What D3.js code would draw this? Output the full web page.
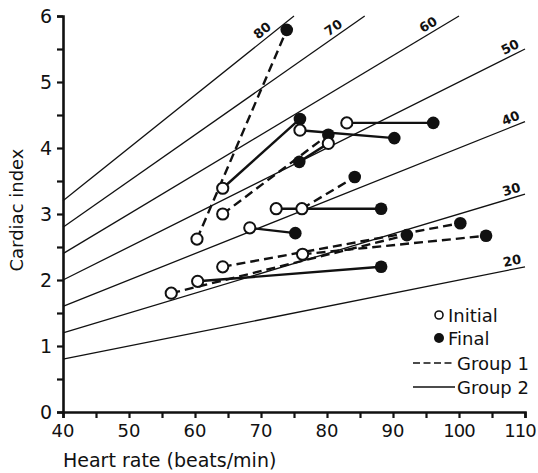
<!DOCTYPE html>
<html>
<head>
<meta charset="utf-8">
<script src="https://cdn.jsdelivr.net/npm/d3@7"></script>
<style>
  body { margin: 0; background: #fff; }
  svg { display: block; }
  text { font-family: "DejaVu Sans", "Liberation Sans", sans-serif; fill: #111; }
</style>
</head>
<body>
<div id="grafico"></div>
<script>
// iso-lines of stroke index (ml/m2): CI = HR * SI / 1000
const indicesSistolicos = [20, 30, 40, 50, 60, 70, 80];

// initial -> final, per patient
const frecInicial = [60.3, 64.2, 75.9, 83.0, 64.2, 80.2, 76.2, 72.3, 68.3, 56.4, 60.4, 64.2, 76.3];
const indInicial  = [2.62, 3.39, 4.27, 4.38, 3.00, 4.07, 3.08, 3.08, 2.79, 1.80, 1.98, 2.20, 2.39];
const frecFinal   = [73.9, 75.9, 90.2, 96.1, 80.2, 75.8, 84.2, 88.2, 75.2, 92.1, 88.2, 100.2, 104.1];
const indFinal    = [5.79, 4.44, 4.15, 4.38, 4.20, 3.79, 3.56, 3.08, 2.71, 2.68, 2.20, 2.86, 2.67];
const grupo       = [1, 2, 2, 2, 1, 2, 1, 2, 2, 1, 2, 1, 1];

const ticksX = [40, 50, 60, 70, 80, 90, 100, 110];
const ticksY = [0, 1, 2, 3, 4, 5, 6];
const leyenda = ["Initial", "Final", "Group 1", "Group 2"];

const ancho = 538, alto = 473;
const x = d3.scaleLinear().domain([40, 110]).range([63, 525]);
const y = d3.scaleLinear().domain([0, 6]).range([412, 16]);
const guion = "9,5";

const $svg = d3.select("#grafico")
    .append("svg")
    .attr("width", ancho)
    .attr("height", alto);

// iso-lines, cut at the top of the frame or at 110
indicesSistolicos.forEach(si => {
    const k = si / 1000;
    const hrFin = Math.min(110, 6 / k);
    $svg.append("line")
        .attr("x1", x(40)).attr("y1", y(40 * k))
        .attr("x2", x(hrFin)).attr("y2", y(hrFin * k))
        .attr("stroke", "#111")
        .attr("stroke-width", 1.3);

    const hrTxt = hrFin < 110 ? hrFin - 4 : 108.3;
    const px = x(hrTxt), py = y(hrTxt * k);
    const ang = Math.atan(k * (y(0) - y(1)) / (x(1) - x(0))) * 180 / Math.PI;
    $svg.append("text")
        .attr("transform", `translate(${px},${py}) rotate(${-ang}) translate(0,-4)`)
        .attr("font-size", 13)
        .attr("font-weight", "bold")
        .style("text-anchor", "middle")
        .text(si);
});

// connecting lines
const pacientes = d3.range(frecInicial.length);
$svg.append("g")
    .selectAll("line")
    .data(pacientes)
    .join("line")
    .attr("x1", i => x(frecInicial[i])).attr("y1", i => y(indInicial[i]))
    .attr("x2", i => x(frecFinal[i])).attr("y2", i => y(indFinal[i]))
    .attr("stroke", "#111")
    .attr("stroke-width", 2.4)
    .attr("stroke-dasharray", i => grupo[i] === 1 ? guion : null);

// finals, then initials on top
$svg.append("g")
    .selectAll("circle")
    .data(pacientes)
    .join("circle")
    .attr("cx", i => x(frecFinal[i])).attr("cy", i => y(indFinal[i]))
    .attr("r", 6.3)
    .attr("fill", "#111");

$svg.append("g")
    .selectAll("circle")
    .data(pacientes)
    .join("circle")
    .attr("cx", i => x(frecInicial[i])).attr("cy", i => y(indInicial[i]))
    .attr("r", 5.6)
    .attr("fill", "#fff")
    .attr("stroke", "#111")
    .attr("stroke-width", 2);

// axes
const ejeX = $svg.append("g")
    .attr("transform", `translate(0,${y(0)})`)
    .call(d3.axisBottom(x).tickValues(d3.range(40, 111, 5)).tickSize(6).tickFormat(""));
const ejeY = $svg.append("g")
    .attr("transform", `translate(${x(40)},0)`)
    .call(d3.axisLeft(y).tickValues(d3.range(0, 6.01, 0.5)).tickSize(6).tickFormat(""));
[ejeX, ejeY].forEach(eje => {
    eje.select(".domain").attr("stroke", "#111").attr("stroke-width", 2.6);
    eje.selectAll(".tick line").attr("stroke", "#111").attr("stroke-width", 2.2);
});

$svg.append("g")
    .selectAll("text")
    .data(ticksX)
    .join("text")
    .attr("x", d => Math.min(x(d), ancho - 18))
    .attr("y", 437)
    .attr("font-size", 18)
    .attr("letter-spacing", d => d >= 100 ? -1 : 0)
    .style("text-anchor", "middle")
    .text(d => d);

$svg.append("g")
    .selectAll("text")
    .data(ticksY)
    .join("text")
    .attr("x", 46)
    .attr("y", d => y(d) + 7)
    .attr("font-size", 19)
    .style("text-anchor", "middle")
    .text(d => d);

$svg.append("text")
    .attr("x", 63)
    .attr("y", 467)
    .attr("font-size", 19)
    .text("Heart rate (beats/min)");

$svg.append("text")
    .attr("transform", `translate(23,210) rotate(-90)`)
    .attr("font-size", 18)
    .style("text-anchor", "middle")
    .text("Cardiac index");

// legend
const lx = 448;
$svg.append("circle").attr("cx", 439).attr("cy", 315).attr("r", 4)
    .attr("fill", "#fff").attr("stroke", "#111").attr("stroke-width", 1.6);
$svg.append("circle").attr("cx", 439).attr("cy", 338).attr("r", 5).attr("fill", "#111");
$svg.append("line").attr("x1", 413).attr("x2", 455).attr("y1", 363).attr("y2", 363)
    .attr("stroke", "#111").attr("stroke-width", 1.4).attr("stroke-dasharray", "7,3.5");
$svg.append("line").attr("x1", 413).attr("x2", 455).attr("y1", 387).attr("y2", 387)
    .attr("stroke", "#111").attr("stroke-width", 1.4);
$svg.append("g")
    .selectAll("text")
    .data(leyenda)
    .join("text")
    .attr("x", (d, i) => i < 2 ? lx : 457)
    .attr("y", (d, i) => [322, 345, 370, 394][i])
    .attr("font-size", 18)
    .text(d => d);
</script>
</body>
</html>
